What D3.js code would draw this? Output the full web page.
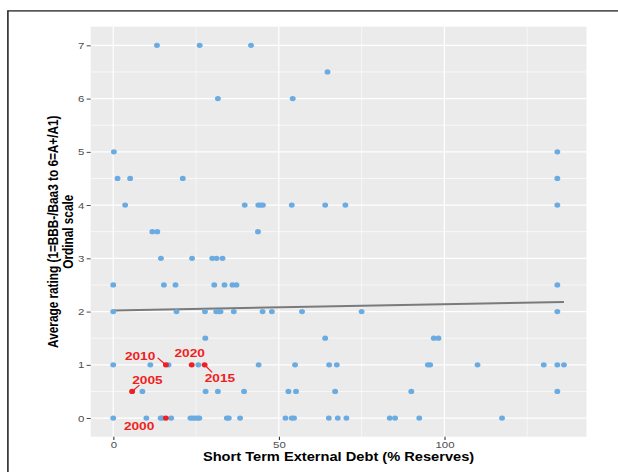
<!DOCTYPE html>
<html>
<head>
<meta charset="utf-8">
<script src="https://cdn.jsdelivr.net/npm/d3@7"></script>
<style>
html,body{margin:0;padding:0;background:#fff;}
svg{display:block;}
text{font-family:"Liberation Sans",Arial,Helvetica,sans-serif;}
</style>
</head>
<body>
<div id="chart"></div>
<script>
// ---------------- data ----------------
const debt = [
  13.2, 26.1, 41.6,
  64.7,
  31.6, 54.2,
  0.2, 134.1,
  1.3, 5.1, 21.0, 134.1,
  3.6, 39.7, 43.8, 44.5, 45.2, 53.9, 64.0, 70.1, 134.1,
  11.8, 13.3, 43.7,
  14.4, 23.8, 29.9, 31.2, 33.0,
  0, 15.3, 18.8, 30.5, 33.6, 36.0, 37.2, 134.1,
  0, 19.1, 27.7, 31.1, 31.8, 32.4, 36.4, 45.1, 47.9, 57.0, 75.0, 134.1,
  27.8, 64.0, 96.8, 98.2,
  0, 11.2, 16.7, 25.7, 43.9, 54.9, 65.2, 67.5, 95.0, 95.7, 110.0, 130.0, 134.1, 136.1,
  8.8, 27.9, 31.6, 39.5, 52.9, 55.2, 67.0, 90.0, 134.1,
  0, 10.0, 14.3, 14.9, 17.5, 23.3, 24.0, 24.7, 25.5, 26.0, 34.3, 34.9, 38.3, 52.0, 53.9, 54.6, 65.1, 67.8, 70.4, 83.5, 85.1, 92.4, 117.4
];
const rating = [
  7, 7, 7,
  6.5,
  6, 6,
  5, 5,
  4.5, 4.5, 4.5, 4.5,
  4, 4, 4, 4, 4, 4, 4, 4, 4,
  3.5, 3.5, 3.5,
  3, 3, 3, 3, 3,
  2.5, 2.5, 2.5, 2.5, 2.5, 2.5, 2.5, 2.5,
  2, 2, 2, 2, 2, 2, 2, 2, 2, 2, 2, 2,
  1.5, 1.5, 1.5, 1.5,
  1, 1, 1, 1, 1, 1, 1, 1, 1, 1, 1, 1, 1, 1,
  0.5, 0.5, 0.5, 0.5, 0.5, 0.5, 0.5, 0.5, 0.5,
  0, 0, 0, 0, 0, 0, 0, 0, 0, 0, 0, 0, 0, 0, 0, 0, 0, 0, 0, 0, 0, 0, 0
];
const highlightYears = ["2000", "2005", "2010", "2015", "2020"];
const highlightDebt = [15.9, 5.7, 15.9, 27.6, 23.7];
const highlightRating = [0, 0.5, 1, 1, 1];
const trendDebt = [0, 136.1];
const trendRating = [2.02, 2.18];
const yTicks = [0, 1, 2, 3, 4, 5, 6, 7];
const xTicks = [0, 50, 100];
const xTitle = "Short Term External Debt (% Reserves)";
const yTitle = ["Average rating (1=BBB-/Baa3 to 6=A+/A1)", "Ordinal scale"];

// ---------------- layout ----------------
const S = 1.2;               // horizontal stretch of the picture
const W = 618, H = 472, VW = W / S;
const P = {left: 90.7 / S, right: 586.5 / S, top: 26.7, bottom: 436.7};
// label offsets (real px) relative to their point: [dx, dy(baseline), segment end dx, dy]
const labelLayout = {
  "2000": {dx: -26.8, dy: 11.6, seg: null},
  "2005": {dx: 15.3, dy: -7.4, seg: [7.3, -6.4]},
  "2010": {dx: -25.8, dy: -4.9, seg: [-8.2, -6.9]},
  "2015": {dx: 15.3, dy: 17.0, seg: [7.5, 7.5]},
  "2020": {dx: -2, dy: -8.2, seg: null}
};
const blue = "#6AACE2", red = "#F01E22";

const svg = d3.select("#chart").append("svg")
  .attr("width", W).attr("height", H)
  .attr("viewBox", `0 0 ${VW} ${H}`)
  .attr("preserveAspectRatio", "none");

svg.append("rect").attr("x", 0).attr("y", 0).attr("width", VW).attr("height", H).attr("fill", "#fff");
// outer frame (cropped)
svg.append("rect").attr("x", 7.9 / S).attr("y", 10.9).attr("width", VW + 20).attr("height", H + 20)
  .attr("fill", "none").attr("stroke", "#222").attr("stroke-width", 1.3);

const allX = debt.concat(highlightDebt), allY = rating.concat(highlightRating);
const ex = d3.extent(allX), ey = d3.extent(allY);
const px = (ex[1] - ex[0]) * 0.05, py = (ey[1] - ey[0]) * 0.05;
const x = d3.scaleLinear().domain([ex[0] - px, ex[1] + px]).range([P.left, P.right]);
const y = d3.scaleLinear().domain([ey[0] - py, ey[1] + py]).range([P.bottom, P.top]);

// panel
svg.append("rect").attr("x", P.left).attr("y", P.top)
  .attr("width", P.right - P.left).attr("height", P.bottom - P.top).attr("fill", "#EBEBEB");

const g = svg.append("g");
const yMinor = d3.range(0.5, 7, 1);
const xMinor = [25, 75, 125];
g.selectAll(".ymin").data(yMinor).enter().append("line")
  .attr("x1", P.left).attr("x2", P.right).attr("y1", d => y(d)).attr("y2", d => y(d))
  .attr("stroke", "#fff").attr("stroke-width", 0.6);
g.selectAll(".xmin").data(xMinor).enter().append("line")
  .attr("y1", P.top).attr("y2", P.bottom).attr("x1", d => x(d)).attr("x2", d => x(d))
  .attr("stroke", "#fff").attr("stroke-width", 0.6 / S);
g.selectAll(".ymaj").data(yTicks).enter().append("line")
  .attr("x1", P.left).attr("x2", P.right).attr("y1", d => y(d)).attr("y2", d => y(d))
  .attr("stroke", "#fff").attr("stroke-width", 1.2);
g.selectAll(".xmaj").data(xTicks).enter().append("line")
  .attr("y1", P.top).attr("y2", P.bottom).attr("x1", d => x(d)).attr("x2", d => x(d))
  .attr("stroke", "#fff").attr("stroke-width", 1.2 / S);

// axes
const yAxis = svg.append("g").attr("transform", `translate(${P.left},0)`)
  .call(d3.axisLeft(y).tickValues(yTicks).tickSize(3.4).tickPadding(1.8).tickFormat(d3.format("d")));
const xAxis = svg.append("g").attr("transform", `translate(0,${P.bottom})`)
  .call(d3.axisBottom(x).tickValues(xTicks).tickSize(3.4).tickPadding(1.6).tickFormat(d3.format("d")));
[yAxis, xAxis].forEach(a => {
  a.select(".domain").remove();
  a.selectAll(".tick line").attr("stroke", "#333").attr("stroke-width", 0.9);
  a.selectAll(".tick text").attr("fill", "#4D4D4D").attr("font-size", 9.5)
    .attr("font-family", "Liberation Sans, Arial, sans-serif");
});

// titles
svg.append("text").attr("x", (P.left + P.right) / 2).attr("y", 461)
  .attr("text-anchor", "middle").attr("font-weight", "bold").attr("font-size", 12.2).attr("fill", "#000")
  .text(xTitle);
const cy = (P.top + P.bottom) / 2;
yTitle.forEach((t, i) => {
  const bx = [48.3, 61.2][i];
  svg.append("text").attr("transform", `translate(${bx},${cy}) rotate(-90)`)
    .attr("text-anchor", "middle").attr("font-weight", "bold").attr("font-size", 11.8).attr("fill", "#000")
    .text(t);
});

// trend line
svg.append("line")
  .attr("x1", x(trendDebt[0])).attr("y1", y(trendRating[0]))
  .attr("x2", x(trendDebt[1])).attr("y2", y(trendRating[1]))
  .attr("stroke", "#7A7A7A").attr("stroke-width", 2);

// points
const pts = debt.map((d, i) => ({d, r: rating[i]}));
svg.append("g").selectAll("ellipse").data(pts).enter().append("ellipse")
  .attr("cx", p => x(p.d)).attr("cy", p => y(p.r)).attr("rx", 2.45).attr("ry", 2.6)
  .attr("fill", blue);

const hl = highlightYears.map((yr, i) => ({yr, d: highlightDebt[i], r: highlightRating[i]}));
const hg = svg.append("g");
hl.forEach(h => {
  const L = labelLayout[h.yr];
  const cx = x(h.d), cyy = y(h.r);
  if (L.seg) {
    hg.append("line").attr("x1", cx).attr("y1", cyy)
      .attr("x2", cx + L.seg[0] / S).attr("y2", cyy + L.seg[1])
      .attr("stroke", red).attr("stroke-width", 1.1);
  }
});
hg.selectAll("ellipse").data(hl).enter().append("ellipse")
  .attr("cx", h => x(h.d)).attr("cy", h => y(h.r)).attr("rx", 2.45).attr("ry", 2.6).attr("fill", red);
hg.selectAll("text").data(hl).enter().append("text")
  .attr("x", h => x(h.d) + labelLayout[h.yr].dx / S)
  .attr("y", h => y(h.r) + labelLayout[h.yr].dy)
  .attr("text-anchor", "middle").attr("font-weight", "bold").attr("font-size", 11.4)
  .attr("fill", red).text(h => h.yr);
</script>
</body>
</html>
